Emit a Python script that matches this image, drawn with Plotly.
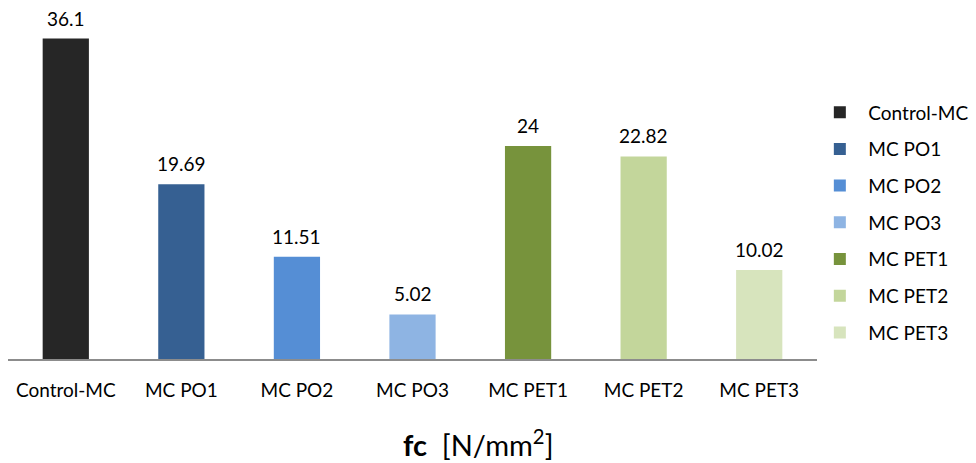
import plotly.graph_objects as go

categories = ["Control-MC", "MC PO1", "MC PO2", "MC PO3", "MC PET1", "MC PET2", "MC PET3"]
values = [36.1, 19.69, 11.51, 5.02, 24, 22.82, 10.02]
labels = ["36.1", "19.69", "11.51", "5.02", "24", "22.82", "10.02"]
colors = ["#262626", "#366092", "#558ED5", "#8EB4E3", "#77933C", "#C3D69B", "#D7E4BD"]

W, H = 976, 463
ML, MR, MT, MB = 8, 159, 4, 104
FONT = "Lato, 'Open Sans', sans-serif"

fig = go.Figure()
for cat, val, col in zip(categories, values, colors):
    fig.add_trace(go.Bar(
        x=[cat], y=[val], name=cat, legendgroup=cat,
        marker=dict(color=col, line=dict(width=0)),
        width=0.4, offsetgroup="all",
    ))

# value labels above each bar
annotations = [
    dict(x=cat, y=val, xref="x", yref="y", text=lab, showarrow=False,
         yanchor="bottom", yshift=7, font=dict(size=19, family=FONT, color="#000000"))
    for cat, val, lab in zip(categories, values, labels)
]

# axis caption below the category labels
pw, ph = W - ML - MR, H - MT - MB
annotations.append(dict(
    x=(478 - ML) / pw, y=-(443 - (H - MB)) / ph, xref="paper", yref="paper",
    xanchor="center", yanchor="middle", showarrow=False,
    text="<b>fc</b>  [N/mm<sup>2</sup>]",
    font=dict(size=29, family=FONT, color="#000000"),
))

fig.update_layout(
    width=W, height=H,
    margin=dict(l=ML, r=MR, t=MT, b=MB, autoexpand=False),
    paper_bgcolor="white", plot_bgcolor="white",
    font=dict(family=FONT, color="#000000"),
    barmode="overlay",
    showlegend=True,
    legend=dict(
        x=0.993, xanchor="left", xref="paper", y=0.385, yanchor="middle",
        font=dict(size=19, family=FONT), tracegroupgap=9,
        itemwidth=47, traceorder="grouped",
        bgcolor="rgba(0,0,0,0)",
    ),
    xaxis=dict(
        categoryorder="array", categoryarray=categories,
        showline=True, linecolor="#8c8c8c", linewidth=2,
        ticks="", showgrid=False, zeroline=False,
        tickfont=dict(size=19, family=FONT), ticklabelstandoff=13,
    ),
    yaxis=dict(range=[0, 40], visible=False, showgrid=False, zeroline=False),
    annotations=annotations,
)

fig.write_html("out.html")
